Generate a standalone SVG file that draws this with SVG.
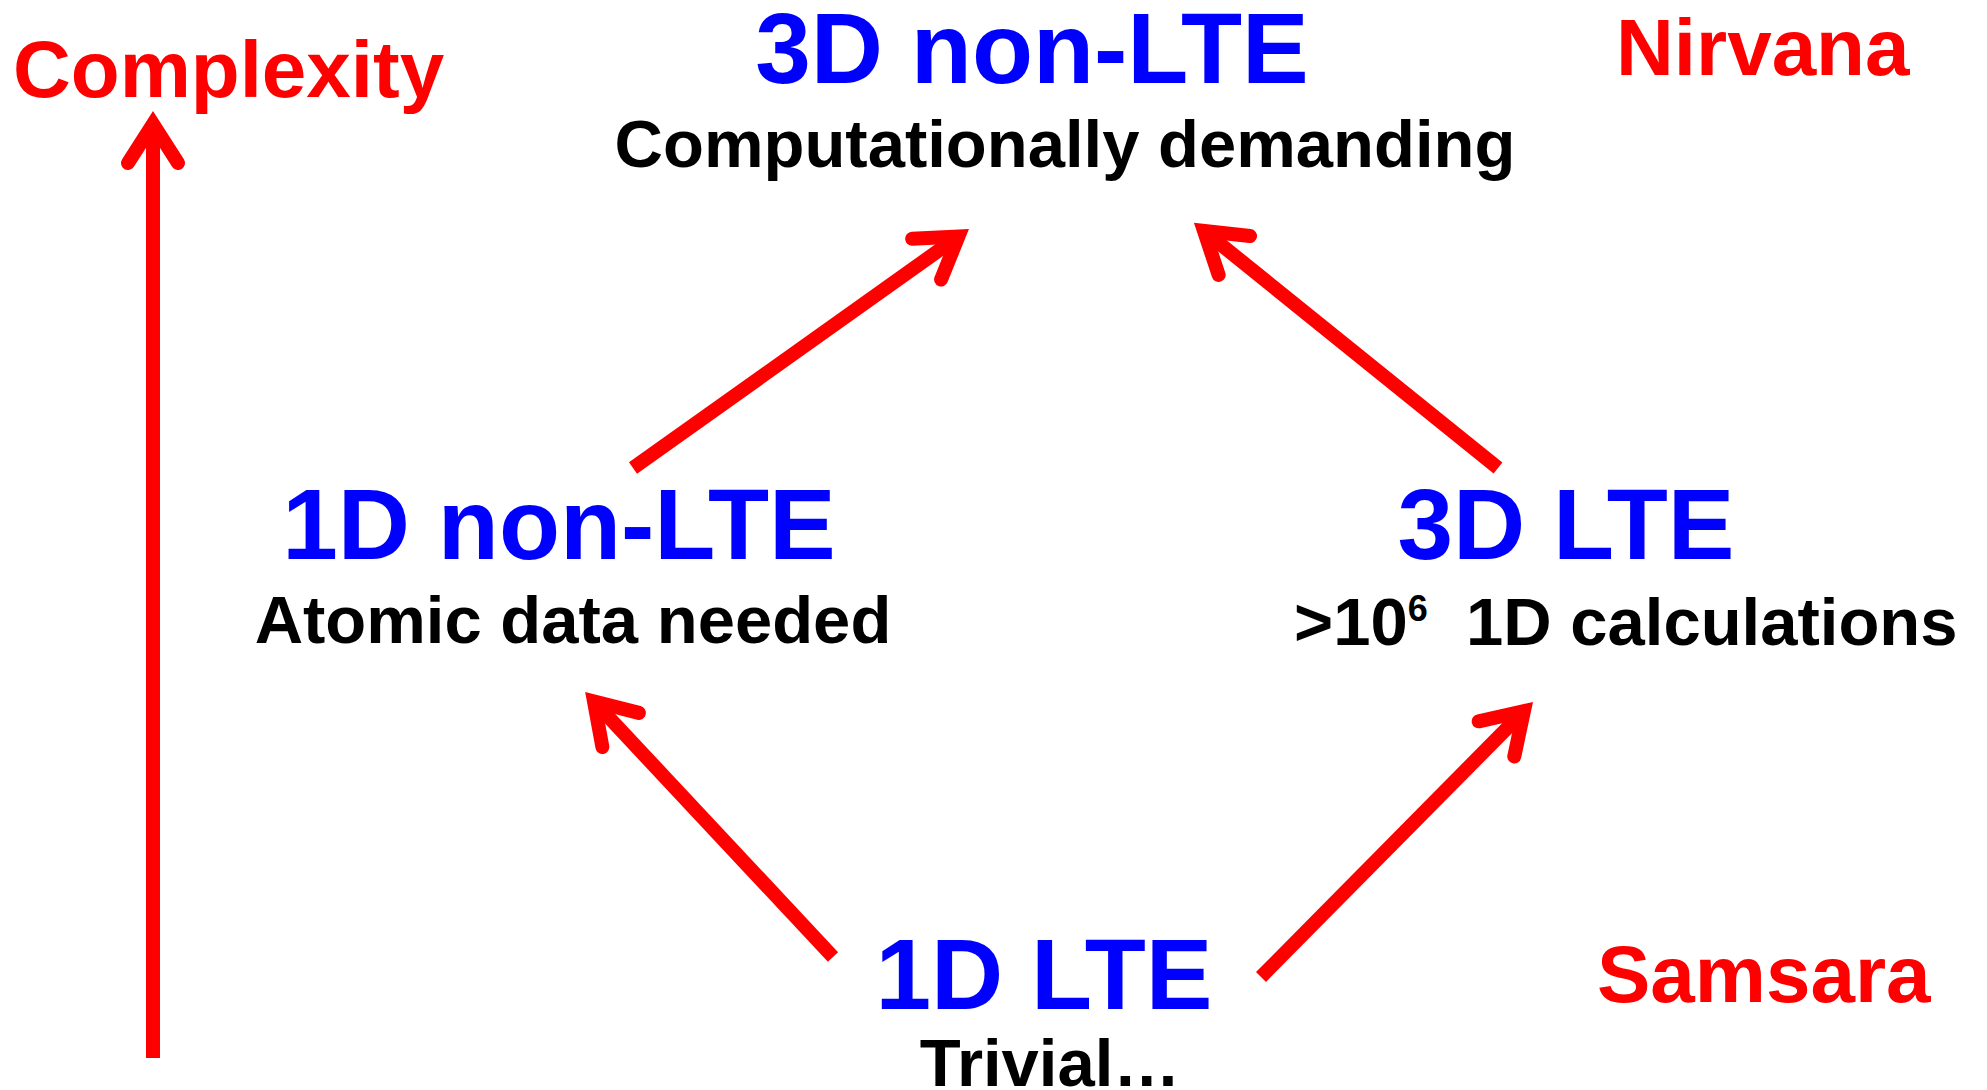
<svg xmlns="http://www.w3.org/2000/svg" width="1987" height="1090" viewBox="0 0 1987 1090">
<style>
text{font-family:"Liberation Sans",Arial,sans-serif;font-weight:bold}
.title{fill:#0000FF;font-size:100px;text-anchor:middle}
.sub{fill:#000000;font-size:67px}
.red{fill:#FF0000;font-size:80px}
.conn{stroke:#FF0000;stroke-width:14;fill:none;stroke-linecap:butt}
</style>
<defs>
<marker id="head" markerUnits="userSpaceOnUse" orient="auto" refX="0" refY="0" markerWidth="100" markerHeight="100" viewBox="-60 -50 80 100" overflow="visible">
<path d="M-39,-25 L0,0 L-39,25" fill="none" stroke="#FF0000" stroke-width="14" stroke-linecap="round" stroke-linejoin="miter" stroke-miterlimit="10"/>
</marker>
</defs>
<rect width="1987" height="1090" fill="#FFFFFF"/>
<g id="connectors">
<line class="conn" x1="153" y1="1058" x2="153" y2="124" marker-end="url(#head)"/>
<line class="conn" x1="633" y1="468" x2="958.4" y2="236.5" marker-end="url(#head)"/>
<line class="conn" x1="1498" y1="468" x2="1204" y2="231" marker-end="url(#head)"/>
<line class="conn" x1="833" y1="957" x2="594" y2="701.5" marker-end="url(#head)"/>
<line class="conn" x1="1261" y1="977" x2="1523.9" y2="711.2" marker-end="url(#head)"/>
</g>
<g id="complexity"><text class="red" x="13" y="97">Complexity</text></g>
<g id="nirvana"><text class="red" x="1616" y="75">Nirvana</text></g>
<g id="samsara"><text class="red" x="1597" y="1002" font-size="79px">Samsara</text></g>
<g id="node-3d-nonlte">
<text class="title" x="1032" y="83">3D non-LTE</text>
<text class="sub" x="1065" y="167" text-anchor="middle" font-size="67.5px">Computationally demanding</text>
</g>
<g id="node-1d-nonlte">
<text class="title" x="559" y="559">1D non-LTE</text>
<text class="sub" x="573" y="643" text-anchor="middle">Atomic data needed</text>
</g>
<g id="node-3d-lte">
<text class="title" x="1566" y="559">3D LTE</text>
<text class="sub" x="1294" y="645">&gt;10<tspan font-size="36px" dy="-24">6</tspan><tspan x="1466" dy="24">1D calculations</tspan></text>
</g>
<g id="node-1d-lte">
<text class="title" x="1044" y="1009">1D LTE</text>
<text class="sub" x="1050" y="1086" text-anchor="middle">Trivial…</text>
</g>
</svg>
